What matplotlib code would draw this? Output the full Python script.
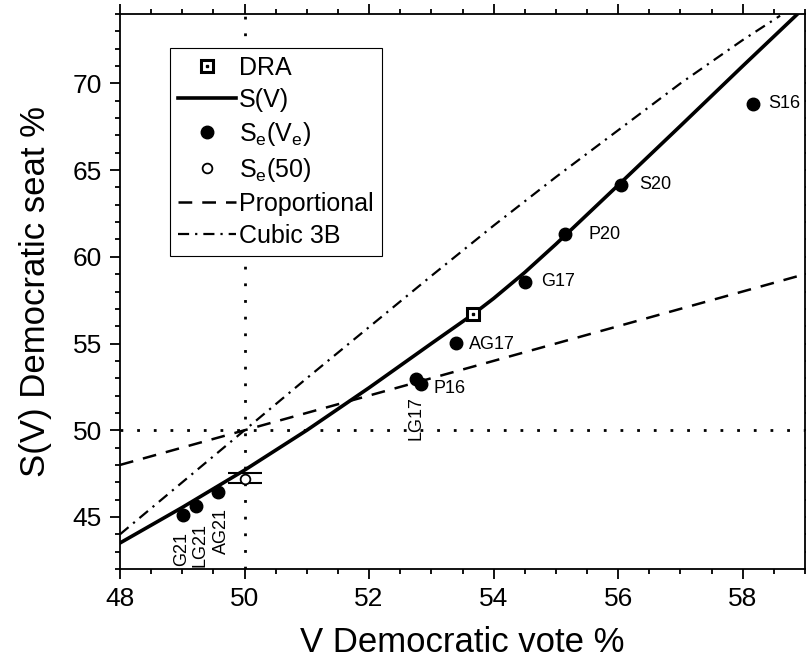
import numpy as np
import matplotlib.pyplot as plt

plt.rcParams['font.family'] = ['Liberation Sans', 'DejaVu Sans']
plt.rcParams['mathtext.fontset'] = 'custom'
plt.rcParams['mathtext.rm'] = 'Liberation Sans'
plt.rcParams['mathtext.it'] = 'Liberation Sans:italic'

# seats-votes curve S(V)
v_curve = [48.0, 49.0, 50.0, 51.0, 52.0, 53.0, 53.67, 54.0, 54.5, 55.0, 56.0, 57.0, 58.0, 58.88]
s_curve = [43.5, 45.55, 47.7, 50.0, 52.45, 55.0, 56.69, 57.6, 59.1, 60.73, 64.13, 67.55, 71.0, 74.0]

# cubic 3B
v_cube = [48, 49, 50, 51, 52, 53, 54, 55, 56, 57, 58, 58.6]
s_cube = [44.0, 47.0, 50.0, 53.0, 55.95, 58.9, 61.8, 64.6, 67.3, 70.0, 72.5, 73.9]

# proportional
v_prop = [48, 59]
s_prop = [48, 59]

# elections Se(Ve)
names = ['S16', 'S20', 'P20', 'G17', 'AG17', 'P16', 'LG17', 'G21', 'LG21', 'AG21']
v_e = [58.16, 56.05, 55.15, 54.51, 53.39, 52.84, 52.76, 49.01, 49.22, 49.58]
s_e = [68.82, 64.15, 61.30, 58.57, 55.02, 52.67, 52.94, 45.11, 45.63, 46.46]

# DRA point
v_dra, s_dra = 53.67, 56.69

# Se(50) with error
s50 = 47.17
s50_lo, s50_hi = 0.23, 0.35

# label offsets in points (dx, dy, vertical?)
offs = {'S16': (11, 0, False), 'S20': (13, 0, False), 'P20': (16.5, 0, False),
        'G17': (11.5, 0, False), 'AG17': (9.5, -1, False), 'P16': (9, -3, False),
        'LG17': (0, -12, True), 'G21': (-1, -12, True), 'LG21': (3, -12, True),
        'AG21': (2.5, -12, True)}

fig = plt.figure(figsize=(8.06, 6.66), dpi=100)
ax = fig.add_axes([120/806, 97/666, 685/806, 555/666])

dot = (0, (1, 5))
ax.axhline(50, color='k', lw=2, ls=dot, zorder=1)
ax.axvline(50, color='k', lw=2, ls=dot, zorder=1)

prop, = ax.plot(v_prop, s_prop, color='k', lw=1.8, dashes=(5.5, 4), zorder=2)
cube, = ax.plot(v_cube, s_cube, color='k', lw=1.6, dashes=(5, 2.7, 1, 2.7), zorder=2)
sv, = ax.plot(v_curve, s_curve, color='k', lw=2.6, zorder=3)

ax.errorbar([50], [s50], yerr=[[s50_lo], [s50_hi]], fmt='none', ecolor='k',
            elinewidth=1.3, capsize=12, capthick=1.5, zorder=4)
se50, = ax.plot([50], [s50], 'o', ms=7, mfc='white', mec='k', mew=1.3, zorder=5,
                ls='none')

ele, = ax.plot(v_e, s_e, 'o', color='k', ms=9, ls='none', zorder=5)

dra_sq, = ax.plot([v_dra], [s_dra], 's', ms=8.5, mfc='white', mec='k', mew=2.2,
                  ls='none', zorder=6)
dra_dt, = ax.plot([v_dra], [s_dra], 's', ms=2, color='k', ls='none', zorder=7)

for n, x, y in zip(names, v_e, s_e):
    dx, dy, vert = offs[n]
    if vert:
        ax.annotate(n, (x, y), xytext=(dx, dy), textcoords='offset points',
                    rotation=90, ha='center', va='top', fontsize=13)
    else:
        ax.annotate(n, (x, y), xytext=(dx, dy), textcoords='offset points',
                    ha='left', va='center', fontsize=13)

ax.set_xlim(48, 59)
ax.set_ylim(42, 74)
ax.set_xticks(np.arange(48, 59, 2))
ax.set_xticks(np.arange(48, 59.01, 0.5), minor=True)
ax.set_yticks(np.arange(45, 71, 5))
ax.set_yticks(np.arange(42, 74.01, 1), minor=True)
ax.tick_params(which='both', direction='out', top=True, right=True, width=1.3,
               labelsize=19)
ax.tick_params(which='major', length=7, pad=6)
ax.tick_params(which='minor', length=3.5)
for s in ax.spines.values():
    s.set_linewidth(1.3)

ax.set_xlabel('V Democratic vote %', fontsize=25, labelpad=11)
ax.set_ylabel('S(V) Democratic seat %', fontsize=25, labelpad=15)

leg = ax.legend([(dra_sq, dra_dt), sv, ele, se50, prop, cube],
                ['DRA', 'S(V)', r'S$_\mathrm{e}$(V$_\mathrm{e}$)', r'S$_\mathrm{e}$(50)',
                 'Proportional', 'Cubic 3B'],
                loc='upper left', bbox_to_anchor=(0.073, 0.939), borderaxespad=0,
                fontsize=18, frameon=True, fancybox=False, framealpha=1,
                edgecolor='k', handlelength=2.3, handletextpad=0.15,
                labelspacing=0.32, borderpad=0.32)
leg.get_frame().set_linewidth(0.8)

fig.savefig('out.png', dpi=100)
